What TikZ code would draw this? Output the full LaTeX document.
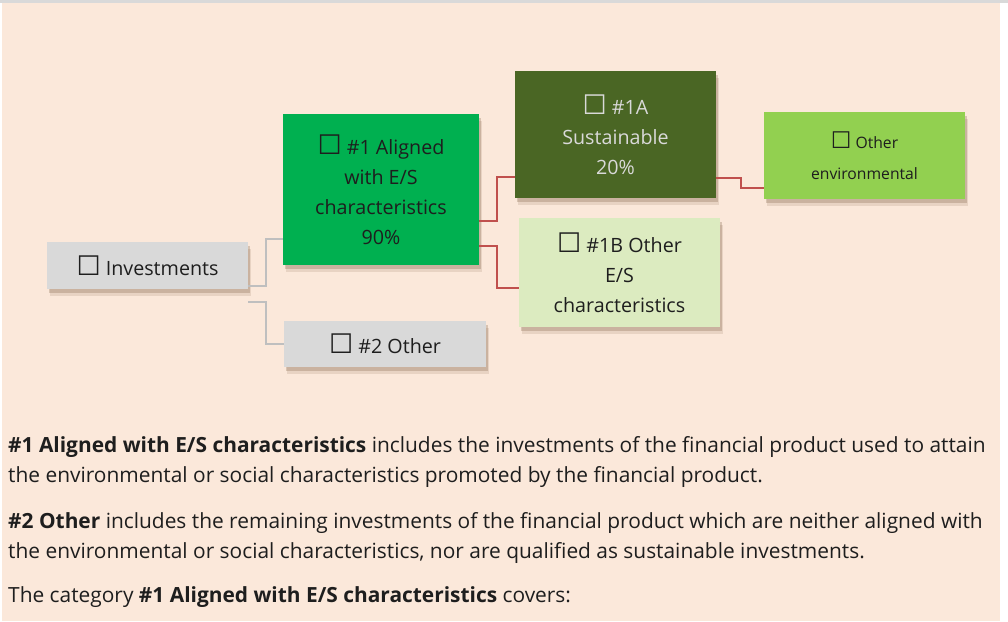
\documentclass[tikz,border=0pt]{standalone}
\usepackage{fontspec}
\setmainfont{Open Sans}
\newfontfamily\symfont{DejaVu Sans}
\usepackage{xcolor}
\usetikzlibrary{positioning,calc,shadows}
\definecolor{pagebg}{HTML}{FBE8DA}
\definecolor{topline}{HTML}{D9D9D9}
\definecolor{boxgray}{HTML}{D9D9D9}
\definecolor{alignedgreen}{HTML}{00B050}
\definecolor{sustgreen}{HTML}{4A6624}
\definecolor{otheresgreen}{HTML}{DCEBC0}
\definecolor{envgreen}{HTML}{92D050}
\definecolor{linkred}{HTML}{C0504D}
\definecolor{linkgray}{HTML}{BFBFBF}
\definecolor{inkdark}{HTML}{1E1E1E}
\newcommand{\tickbox}[1][27]{{\symfont\fontsize{#1}{#1}\selectfont ☐}}

\begin{document}
\begin{tikzpicture}[x=1pt,y=-1pt,
  box/.style={inner sep=2pt,align=center,text=inkdark,
              font=\fontsize{19.7}{30}\selectfont,
              general shadow={shadow xshift=3pt,shadow yshift=-7pt,
                              fill=brown!50!black,opacity=0.12},
              drop shadow={shadow xshift=2pt,shadow yshift=-4pt,
                           fill=brown!50!black,opacity=0.22}},
  gl/.style={draw=linkgray,line width=2pt},
  rl/.style={draw=linkred,line width=1.8pt},
  para/.style={anchor=base west,align=left,text=inkdark,
               font=\fontsize{20.9}{30}\selectfont,inner sep=0pt}]
\useasboundingbox (0,0) rectangle (1008,621);
\fill[white] (0,0) rectangle (1008,621);
\fill[pagebg] (2,3) rectangle (1000,621);
\fill[topline] (0,0) rectangle (1008,3);
% tree
\node[box,fill=boxgray,minimum width=201pt,minimum height=47pt] (inv) at (147.5,265.5) {\tickbox\ Investments};
\node[box,fill=alignedgreen,minimum width=196pt,minimum height=151pt] (a1) at (381,189.5)
  {\tickbox\ \#1 Aligned\\with E/S\\characteristics\\90\%};
\node[box,fill=boxgray,minimum width=202pt,minimum height=46pt] (o2) at (385,344) {\tickbox\ \#2 Other};
\node[box,fill=sustgreen,text=boxgray,minimum width=201pt,minimum height=127pt] (s1a) at (615.5,134.5)
  {\tickbox\ \#1A\\Sustainable\\20\%};
\node[box,fill=otheresgreen,minimum width=201pt,minimum height=109pt] (s1b) at (619.5,272.5)
  {\tickbox\ \#1B Other\\E/S\\characteristics};
\node[box,fill=envgreen,minimum width=201pt,minimum height=87pt,font=\fontsize{15.7}{31}\selectfont] (oe) at (864.5,155.5)
  {\tickbox[23]\ Other\\environmental};
\draw[gl] ([yshift=-20.5pt]inv.east) -- ++(17.5,0) |- ([yshift=-49.5pt]a1.west);
\draw[gl] ([yshift=-13pt]inv.south east) -- ++(17.5,0) |- (o2.west);
\draw[rl] ([yshift=-31.5pt]a1.east) -- ++(18,0) |- ([yshift=-42.5pt]s1a.west);
\draw[rl] ([yshift=-56.5pt]a1.east) -- ++(18,0) |- ([yshift=-15.5pt]s1b.west);
\draw[rl] ([yshift=-43.5pt]s1a.east) -- ++(25,0) |- ([yshift=-32.5pt]oe.west);
% notes (base = last line)
\node[para] (p1) at (8,482) {\textbf{\#1 Aligned with E/S characteristics} includes the investments of the financial product used to attain\\
  the environmental or social characteristics promoted by the financial product.};
\node[para] (p2) at (8,558) {\textbf{\#2 Other} includes the remaining investments of the financial product which are neither aligned with\\
  the environmental or social characteristics, nor are qualified as sustainable investments.};
\node[para] (p3) at (8,602) {The category \textbf{\#1 Aligned with E/S characteristics} covers:};
\end{tikzpicture}
\end{document}
